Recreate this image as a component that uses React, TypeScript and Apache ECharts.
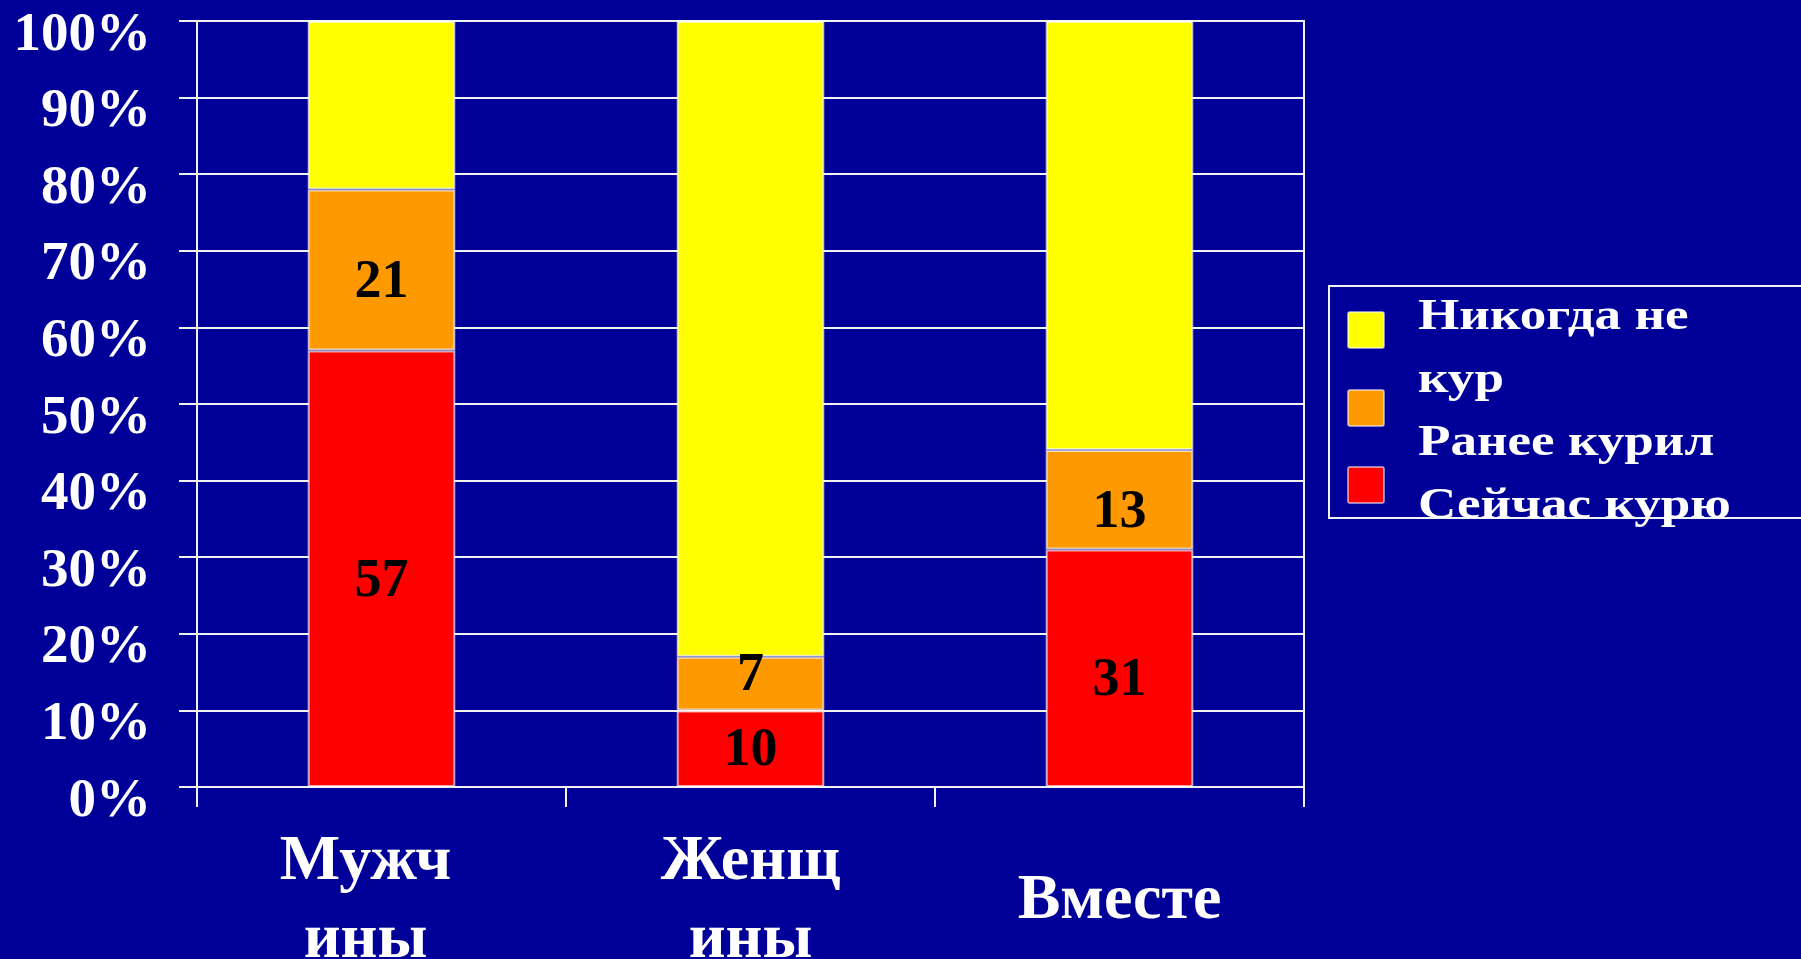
import React, { useEffect, useRef } from "react";
import * as echarts from "echarts";

// Survey groups (category labels are wrapped as on the slide)
const categories = ["Мужч\nины", "Женщ\nины", "Вместе"];

// Shares in percent, stacked bottom to top
const smokesNow = [57, 10, 31];
const formerSmoker = [21, 7, 13];
const neverSmoked = [22, 83, 56];

const seriesNames = ["Сейчас курю", "Ранее курил", "Никогда не кур"];
const seriesColors = ["#ff0000", "#ff9900", "#ffff00"];

// Legend text as it wraps inside its box
const legendLines = ["Никогда не", "кур", "Ранее курил", "Сейчас курю"];

const BG = "#000099";
const LINE = "#f2f2f2";
const SERIF = "'Liberation Serif', 'Times New Roman', serif";

// Vertical nudge of each value label, per series and per group
const labelShift = [
  [9, -2, 9],
  [9, -12, 9],
];

export default function App() {
  const ref = useRef<HTMLDivElement>(null);

  useEffect(() => {
    document.body.style.margin = "0";
    document.body.style.overflow = "hidden";
    document.body.style.background = BG;
    if (!ref.current) return;
    const chart = echarts.init(ref.current, undefined, { renderer: "svg" });

    const valueLabel = {
      show: true,
      position: "inside",
      color: "#000000",
      fontFamily: SERIF,
      fontWeight: "bold",
      fontSize: 54,
    };

    const barStyle = (color: string) => ({
      color,
      borderColor: "rgba(255,255,255,0.65)",
      borderWidth: 2,
    });

    const stackData = [smokesNow, formerSmoker, neverSmoked];

    const series = stackData.map((values, i) => ({
      name: seriesNames[i],
      type: "bar",
      stack: "total",
      barWidth: "40%",
      data: values.map((v, j) =>
        i < 2 ? { value: v, label: { offset: [0, labelShift[i][j]] } } : v
      ),
      itemStyle: barStyle(seriesColors[i]),
      label: i < 2 ? valueLabel : { show: false },
    }));

    // Legend drawn top to bottom: never, former, current
    const legendOrder = [2, 1, 0];
    const swatchTop = [312, 390, 467];

    const legendGraphic: any[] = [
      {
        type: "rect",
        shape: { x: 1329, y: 286, width: 520, height: 232 },
        style: { fill: "none", stroke: LINE, lineWidth: 2 },
        z: 10,
      },
      ...legendOrder.map((si, k) => ({
        type: "rect",
        shape: { x: 1348, y: swatchTop[k], width: 36, height: 36, r: 2 },
        style: {
          fill: seriesColors[si],
          stroke: "rgba(255,255,255,0.7)",
          lineWidth: 1.5,
        },
        z: 11,
      })),
      {
        type: "text",
        x: 1418,
        y: 282,
        scaleX: 1.18,
        style: {
          text: legendLines.join("\n"),
          fill: "#ffffff",
          fontFamily: SERIF,
          fontWeight: "bold",
          fontSize: 45,
          lineHeight: 63,
        },
        z: 12,
      },
    ];

    const catLabelStyle = {
      color: "#ffffff",
      fontFamily: SERIF,
      fontWeight: "bold",
      fontSize: 64,
      lineHeight: 78,
      verticalAlign: "middle",
    };

    // The first group's label sits a little left of its band centre
    const catData = categories.map((c, i) =>
      i === 0
        ? { value: c, textStyle: { ...catLabelStyle, padding: [0, 32, 0, 0] } }
        : c
    );

    chart.setOption({
      animation: false,
      backgroundColor: BG,
      grid: {
        left: 197,
        right: 497,
        top: 21,
        bottom: 172,
        show: true,
        borderColor: LINE,
        borderWidth: 2,
        outerBoundsMode: "none",
      },
      xAxis: {
        type: "category",
        data: catData,
        axisLine: { show: true, lineStyle: { color: LINE, width: 2 } },
        axisTick: { show: true, length: 20, lineStyle: { color: LINE, width: 2 } },
        axisLabel: { ...catLabelStyle, margin: 109 },
      },
      yAxis: {
        type: "value",
        min: 0,
        max: 100,
        interval: 10,
        axisLine: { show: true, lineStyle: { color: LINE, width: 2 } },
        axisTick: { show: true, length: 18, lineStyle: { color: LINE, width: 2 } },
        splitLine: { show: true, lineStyle: { color: LINE, width: 2 } },
        axisLabel: {
          formatter: "{value}%",
          color: "#ffffff",
          fontFamily: SERIF,
          fontWeight: "bold",
          fontSize: 55,
          margin: 46,
          verticalAlign: "top",
          lineHeight: 20,
        },
      },
      series,
      graphic: legendGraphic,
    });

    return () => chart.dispose();
  }, []);

  return <div ref={ref} style={{ width: 1801, height: 959 }} />;
}
